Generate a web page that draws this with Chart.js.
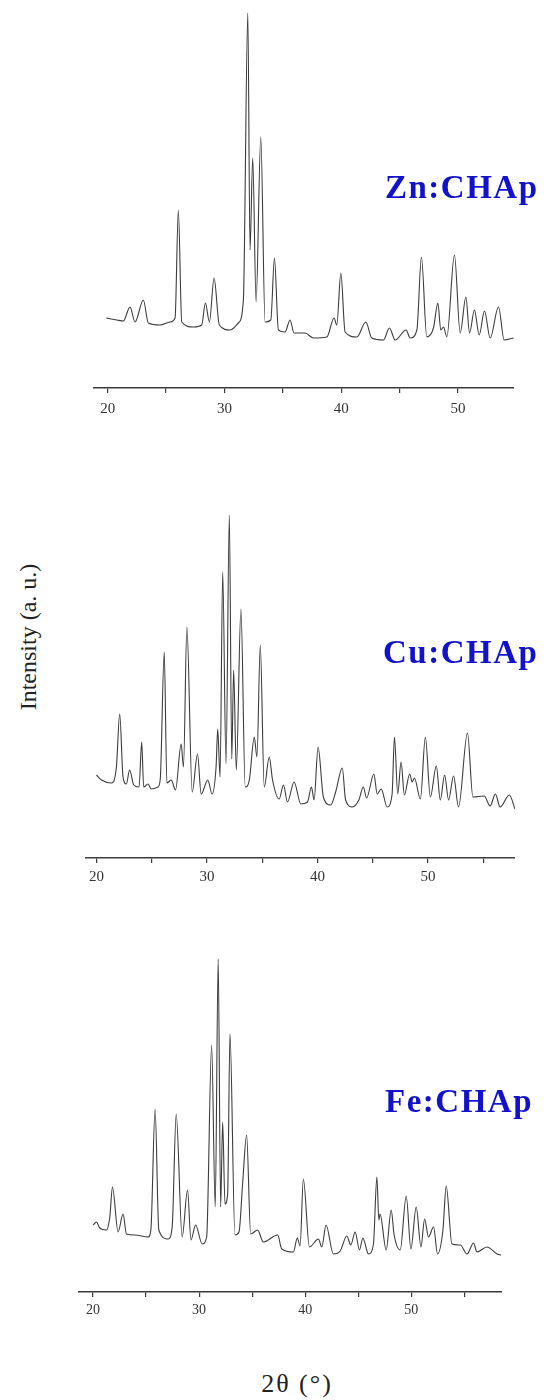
<!DOCTYPE html>
<html>
<head>
<meta charset="utf-8">
<script src="https://cdn.jsdelivr.net/npm/chart.js@4.4.1/dist/chart.umd.min.js"></script>
<style>
  html, body { margin:0; padding:0; background:#fff; }
  body { position:relative; width:547px; height:1400px; overflow:hidden; }
  canvas { position:absolute; }
  .lab { position:absolute; font-family:'Liberation Serif','Times New Roman',serif; font-weight:bold; font-size:33px; line-height:33px; color:#1212cc; letter-spacing:1.5px; white-space:nowrap; }
  .ttl { position:absolute; font-family:'Liberation Serif','Times New Roman',serif; font-size:24px; line-height:28px; color:#222; white-space:nowrap; text-align:center; }
</style>
</head>
<body>
<canvas id="zn" width="421" height="428" style="left:93px;top:0px"></canvas>
<canvas id="cu" width="431" height="398" style="left:84px;top:500px"></canvas>
<canvas id="fe" width="424" height="392" style="left:78px;top:940px"></canvas>

<div class="lab" style="left:385px;top:171px">Zn:CHAp</div>
<div class="lab" style="left:383px;top:636px">Cu:CHAp</div>
<div class="lab" style="left:385px;top:1085px">Fe:CHAp</div>

<div class="ttl" style="left:-72px;top:623px;width:200px;transform:rotate(-90deg);">Intensity (a. u.)</div>
<div class="ttl" style="left:197px;top:1370px;width:200px;font-size:26px;letter-spacing:2px;">2θ (°)</div>

<script>
// ---- Data (2θ in degrees, intensity in arbitrary units) ----
const tickValues = [20, 25, 30, 35, 40, 45, 50, 55];
const labelValues = [20, 30, 40, 50];

const znTwoTheta = [
  19.88, 20.79, 21.34, 21.91, 22.34, 23.05, 23.48, 24.48, 25.34, 25.77,
  26.05, 26.34, 27.34, 28.05, 28.37, 28.71, 29.11, 29.56, 30.48, 31.19,
  31.62, 32.00, 32.19, 32.42, 32.71, 33.11, 33.48, 33.97, 34.28, 34.62,
  35.19, 35.62, 35.96, 36.90, 37.62, 38.77, 39.39, 39.62, 39.97, 40.33,
  41.34, 42.11, 42.62, 43.62, 44.13, 44.62, 45.56, 45.90, 46.48, 46.87,
  47.33, 47.90, 48.28, 48.53, 48.76, 49.05, 49.70, 50.19, 50.68, 50.99,
  51.41, 51.82, 52.27, 52.76, 53.47, 53.96, 54.76
];
const znIntensity = [
  70, 68, 67, 81, 66, 88, 65, 63, 66, 70,
  178, 66, 61, 63, 85, 66, 110, 63, 58, 65,
  88, 375, 138, 230, 86, 251, 66, 68, 130, 58,
  56, 68, 55, 55, 50, 51, 70, 63, 115, 56,
  51, 66, 50, 48, 60, 48, 58, 50, 58, 131,
  51, 60, 85, 58, 61, 51, 133, 55, 91, 55,
  78, 53, 77, 50, 81, 48, 50
];

const cuTwoTheta = [
  20.00, 20.45, 21.35, 21.80, 22.10, 22.40, 22.70, 23.00, 23.37, 23.85,
  24.09, 24.27, 24.66, 24.96, 25.56, 25.77, 26.13, 26.37, 26.76, 27.15,
  27.66, 27.87, 28.18, 28.66, 29.14, 29.47, 30.07, 30.46, 30.82, 30.97,
  31.18, 31.42, 31.72, 32.02, 32.24, 32.41, 32.65, 33.07, 33.46, 33.83,
  34.28, 34.52, 34.82, 35.18, 35.63, 35.93, 36.53, 36.92, 37.28, 37.88,
  38.49, 39.09, 39.45, 39.69, 40.05, 40.53, 41.19, 41.64, 42.24, 42.54,
  43.15, 43.74, 44.14, 44.44, 45.10, 45.40, 45.76, 46.30, 46.75, 46.96,
  47.26, 47.56, 47.86, 48.34, 48.56, 48.77, 49.31, 49.76, 50.21, 50.75,
  51.11, 51.50, 51.86, 52.31, 52.76, 53.57, 54.06, 55.08, 55.62, 56.10,
  56.52, 57.36, 57.87
];
const cuIntensity = [
  83, 78, 75, 91, 144, 81, 74, 88, 73, 71,
  116, 71, 74, 69, 71, 79, 206, 75, 78, 68,
  114, 91, 231, 66, 104, 64, 78, 64, 91, 129,
  81, 286, 94, 343, 99, 188, 88, 249, 71, 78,
  121, 101, 213, 71, 101, 78, 59, 73, 56, 76,
  54, 56, 71, 58, 111, 61, 53, 66, 90, 58,
  51, 58, 71, 60, 84, 64, 69, 51, 64, 121,
  64, 96, 63, 84, 76, 80, 59, 121, 61, 92,
  58, 83, 58, 82, 51, 125, 61, 62, 52, 64,
  51, 63, 49
];

const feTwoTheta = [
  20.00, 20.32, 20.63, 21.26, 21.58, 21.83, 22.36, 22.83, 23.15, 23.94,
  25.19, 25.45, 25.85, 26.20, 27.08, 27.46, 27.84, 28.40, 28.91, 29.23,
  29.67, 30.29, 30.71, 31.18, 31.52, 31.80, 32.03, 32.22, 32.44, 32.69,
  32.91, 33.38, 33.76, 34.10, 34.48, 34.86, 35.52, 36.05, 37.41, 37.79,
  38.89, 39.26, 39.52, 39.83, 40.40, 41.25, 41.57, 41.97, 42.66, 43.30,
  43.93, 44.30, 44.71, 45.12, 45.44, 45.97, 46.44, 46.76, 46.95, 47.06,
  47.64, 48.11, 48.39, 48.96, 49.53, 49.97, 50.47, 50.92, 51.26, 51.63,
  52.11, 52.48, 52.99, 53.30, 53.84, 54.63, 55.26, 55.88, 56.20, 57.15,
  58.09, 58.47
];
const feIntensity = [
  67, 70, 64, 62, 75, 105, 60, 78, 58, 57,
  55, 62, 183, 62, 53, 65, 178, 55, 102, 52,
  67, 48, 55, 247, 85, 333, 85, 170, 88, 98,
  258, 57, 60, 108, 157, 58, 62, 50, 57, 43,
  40, 54, 46, 113, 45, 53, 45, 67, 38, 41,
  56, 47, 60, 42, 54, 38, 48, 115, 72, 78,
  42, 82, 57, 42, 96, 43, 85, 45, 73, 55,
  65, 38, 62, 106, 48, 47, 38, 49, 40, 45,
  38, 37
];

// ---- Chart builder ----
function makeChart(id, xs, ys, xmin, xmax, ymax, fontSize, pad) {
  const pts = xs.map((x, i) => ({ x: x, y: ys[i] }));
  return new Chart(document.getElementById(id), {
    type: 'line',
    data: { datasets: [{
      data: pts,
      borderColor: '#3c3c3c',
      borderWidth: 1.1,
      pointRadius: 0,
      cubicInterpolationMode: 'monotone',
      fill: false
    }]},
    options: {
      responsive: false,
      animation: false,
      events: [],
      layout: { padding: 0 },
      plugins: { legend: { display: false }, tooltip: { enabled: false }, title: { display: false } },
      scales: {
        x: {
          type: 'linear',
          min: xmin, max: xmax,
          afterFit: s => { s.height = 40; },
          afterBuildTicks: s => {
            s.ticks = tickValues.filter(v => v >= s.min && v <= s.max).map(v => ({ value: v }));
          },
          border: { display: true, color: '#3a3a3a', width: 1.5 },
          grid: { display: true, drawOnChartArea: false, drawTicks: true, tickLength: 5, color: '#3a3a3a', lineWidth: 1.2 },
          ticks: {
            autoSkip: false, maxRotation: 0, minRotation: 0,
            padding: pad, color: '#333',
            font: { family: "'Liberation Serif','Times New Roman',serif", size: fontSize },
            callback: v => (labelValues.includes(v) ? String(v) : '')
          }
        },
        y: { display: false, min: 0, max: ymax }
      }
    }
  });
}

makeChart('zn', znTwoTheta, znIntensity, 18.74, 54.8, 388, 15, 7);
makeChart('cu', cuTwoTheta, cuIntensity, 19.01, 57.87, 358, 15, 5);
makeChart('fe', feTwoTheta, feIntensity, 18.58, 58.56, 352, 14, 5);
</script>
</body>
</html>
